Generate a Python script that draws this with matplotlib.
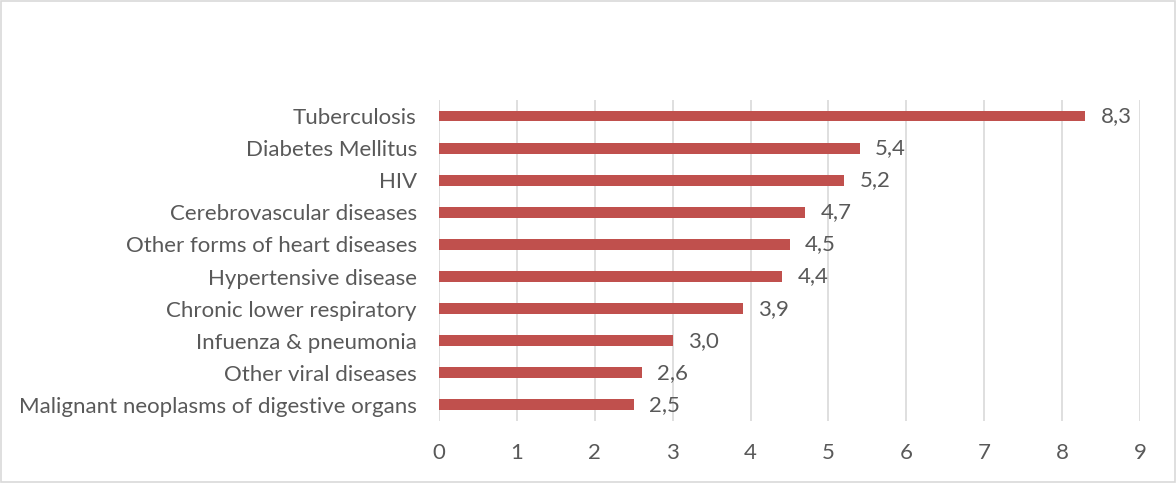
import matplotlib.pyplot as plt
from matplotlib.patches import Rectangle

# causes of death, top to bottom as shown
causes = ["Tuberculosis", "Diabetes Mellitus", "HIV", "Cerebrovascular diseases",
          "Other forms of heart diseases", "Hypertensive disease",
          "Chronic lower respiratory", "Infuenza & pneumonia",
          "Other viral diseases", "Malignant neoplasms of digestive organs"]
values = [8.3, 5.4, 5.2, 4.7, 4.5, 4.4, 3.9, 3.0, 2.6, 2.5]
xticks = [0, 1, 2, 3, 4, 5, 6, 7, 8, 9]

plt.rcParams['font.family'] = ['Lato', 'DejaVu Sans']
txt = "#595959"
fs = 16

fig = plt.figure(figsize=(11.76, 4.83), dpi=100)
ax = fig.add_axes([0.3733, 0.1284, 0.5961, 0.6646])

ypos = list(range(len(causes)))
ax.barh(ypos, values, height=0.34, color="#C0504D", zorder=3)
for y, v in zip(ypos, values):
    ax.text(v + 0.2, y, f"{v:.1f}".replace(".", ","), va="center", ha="left",
            fontsize=fs, color=txt)

ax.set_xlim(0, 9)
ax.set_ylim(len(causes) - 0.5, -0.5)
ax.set_xticks(xticks)
ax.set_yticks(ypos)
ax.set_yticklabels(causes)
ax.tick_params(axis="both", length=0, labelsize=fs, colors=txt)
ax.tick_params(axis="x", pad=16)
ax.tick_params(axis="y", pad=16)
ax.grid(axis="x", color="#D9D9D9", linewidth=1.2, zorder=0)
for s in ax.spines.values():
    s.set_visible(False)

fig.patches.append(Rectangle((0.001, 0.002), 0.998, 0.996, transform=fig.transFigure,
                             fill=False, edgecolor="#D9D9D9", linewidth=1.2))

plt.savefig("out.png", dpi=100)
